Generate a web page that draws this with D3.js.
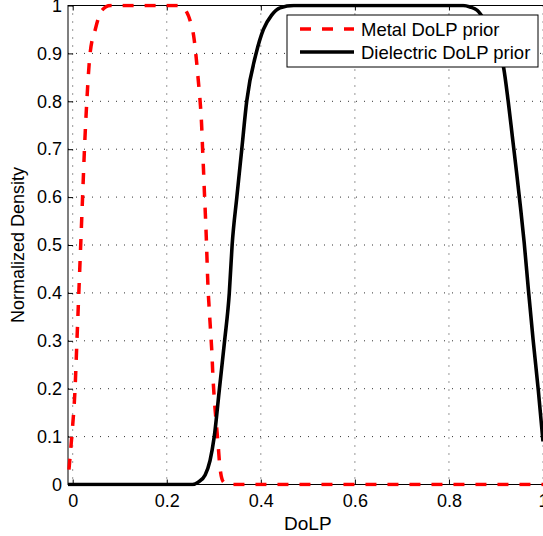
<!DOCTYPE html>
<html>
<head>
<meta charset="utf-8">
<script src="https://cdn.jsdelivr.net/npm/d3@7"></script>
<style>
  body { margin: 0; background: #fff; }
  svg { display: block; font-family: "Liberation Sans", Arial, sans-serif; }
  .grid line { stroke: #333; stroke-width: 1; stroke-dasharray: 1,7; }
  .axis text { font-size: 18px; fill: #000; }
  .axis line { stroke: #000; }
</style>
</head>
<body>
<div id="chart"></div>
<script>
// DoLP values and normalized densities
const metalX = [-0.008, -0.002, 0.005, 0.009, 0.013, 0.017, 0.021, 0.025, 0.030, 0.037, 0.048, 0.062, 0.080,
  0.225, 0.243, 0.252, 0.257, 0.2625, 0.267, 0.271, 0.274, 0.276, 0.278, 0.280, 0.282, 0.284, 0.2857,
  0.2875, 0.290, 0.293, 0.296, 0.298, 0.301, 0.305, 0.309, 0.313, 0.320, 0.330, 1.0];
const metalY = [0.031, 0.1, 0.2, 0.3, 0.4, 0.5, 0.6, 0.7, 0.8, 0.9, 0.95, 0.99, 1.0,
  1.0, 0.985, 0.96, 0.938, 0.892, 0.844, 0.799, 0.753, 0.705, 0.660, 0.611, 0.566, 0.517, 0.467,
  0.416, 0.371, 0.323, 0.274, 0.229, 0.180, 0.131, 0.086, 0.037, 0.006, 0.0, 0.0];

const dielX = [-0.01, 0.255, 0.267, 0.2816, 0.292, 0.301, 0.312, 0.323, 0.333, 0.339, 0.349, 0.3595, 0.370,
  0.390, 0.4055, 0.423, 0.441, 0.47, 0.83, 0.845, 0.86, 0.875, 0.89, 0.903, 0.916, 0.926, 0.935, 0.944,
  0.952, 0.960, 0.969, 0.979, 0.990, 1.0];
const dielY = [0.0, 0.0, 0.005, 0.02, 0.05, 0.1, 0.2, 0.3, 0.4, 0.5, 0.6, 0.7, 0.8,
  0.9, 0.95, 0.98, 0.995, 1.0, 1.0, 0.997, 0.99, 0.97, 0.94, 0.91, 0.872, 0.80, 0.725, 0.65,
  0.58, 0.505, 0.406, 0.302, 0.197, 0.09];

const xTicks = [0, 0.2, 0.4, 0.6, 0.8, 1];
const yTicks = [0, 0.1, 0.2, 0.3, 0.4, 0.5, 0.6, 0.7, 0.8, 0.9, 1];
const seriesNames = ['Metal DoLP prior', 'Dielectric DoLP prior'];

const W = 543, H = 536;
const plotLeft = 68, plotRight = 547.7, plotTop = 5.5, plotBottom = 484.5;

const svg = d3.select('#chart').append('svg')
  .attr('width', W)
  .attr('height', H);

const x = d3.scaleLinear().domain([-0.01, 1.01]).range([plotLeft, plotRight]);
const y = d3.scaleLinear().domain([0, 1]).range([plotBottom, plotTop]);

// dotted grid
const grid = svg.append('g').attr('class', 'grid');
grid.selectAll('.gx')
  .data(xTicks)
  .enter()
  .append('line')
  .attr('x1', d => x(d)).attr('x2', d => x(d))
  .attr('y1', plotTop).attr('y2', plotBottom);
grid.selectAll('.gy')
  .data(yTicks)
  .enter()
  .append('line')
  .attr('x1', plotLeft).attr('x2', plotRight)
  .attr('y1', d => y(d)).attr('y2', d => y(d));

// axes with inward ticks
const xAxis = svg.append('g')
  .attr('class', 'axis')
  .attr('transform', `translate(0, ${plotBottom})`)
  .call(d3.axisBottom(x).tickValues(xTicks).tickSizeInner(-5).tickSizeOuter(0).tickPadding(10)
    .tickFormat(d3.format('')));
xAxis.select('.domain').remove();

const yAxis = svg.append('g')
  .attr('class', 'axis')
  .attr('transform', `translate(${plotLeft}, 0)`)
  .call(d3.axisLeft(y).tickValues(yTicks).tickSizeInner(-5).tickSizeOuter(0).tickPadding(6)
    .tickFormat(d3.format('')));
yAxis.select('.domain').remove();

svg.append('g')
  .attr('transform', `translate(0, ${plotTop})`)
  .call(d3.axisTop(x).tickValues(xTicks).tickSizeInner(-5).tickSizeOuter(0).tickFormat(''))
  .select('.domain').remove();

// frame
svg.append('rect')
  .attr('x', plotLeft).attr('y', plotTop)
  .attr('width', plotRight - plotLeft).attr('height', plotBottom - plotTop)
  .attr('fill', 'none')
  .attr('stroke', '#000')
  .attr('stroke-width', 1);

// curves
svg.append('clipPath').attr('id', 'plot-clip')
  .append('rect')
  .attr('x', plotLeft - 2).attr('y', plotTop - 2)
  .attr('width', plotRight - plotLeft + 4).attr('height', plotBottom - plotTop + 4);

const line = d3.line()
  .x(d => x(d[0]))
  .y(d => y(d[1]))
  .curve(d3.curveMonotoneX);

const plot = svg.append('g').attr('clip-path', 'url(#plot-clip)');

plot.append('path')
  .datum(d3.zip(metalX, metalY))
  .attr('d', line)
  .attr('fill', 'none')
  .attr('stroke', '#ff0000')
  .attr('stroke-width', 3.5)
  .attr('stroke-dasharray', '11,11');

plot.append('path')
  .datum(d3.zip(dielX, dielY))
  .attr('d', line)
  .attr('fill', 'none')
  .attr('stroke', '#000')
  .attr('stroke-width', 3.6);

// axis titles
svg.append('text')
  .attr('x', (plotLeft + plotRight) / 2)
  .attr('y', 530)
  .attr('text-anchor', 'middle')
  .style('font-size', '19px')
  .text('DoLP');

svg.append('text')
  .attr('transform', `translate(24, ${(plotTop + plotBottom) / 2}) rotate(-90)`)
  .attr('text-anchor', 'middle')
  .style('font-size', '18px')
  .text('Normalized Density');

// legend
const legend = svg.append('g').attr('transform', 'translate(287, 15)');
legend.append('rect')
  .attr('width', 251).attr('height', 52)
  .attr('fill', '#fff')
  .attr('stroke', '#000')
  .attr('stroke-width', 1);

const items = legend.selectAll('.item')
  .data(seriesNames)
  .enter()
  .append('g')
  .attr('transform', (d, i) => `translate(0, ${i === 0 ? 14 : 37})`);

items.append('line')
  .attr('x1', 13).attr('x2', 67)
  .attr('stroke', (d, i) => i === 0 ? '#ff0000' : '#000')
  .attr('stroke-width', 3.5)
  .attr('stroke-dasharray', (d, i) => i === 0 ? '11,11' : null);

items.append('text')
  .attr('x', 74)
  .attr('y', 6.5)
  .style('font-size', '18.5px')
  .text(d => d);
</script>
</body>
</html>
